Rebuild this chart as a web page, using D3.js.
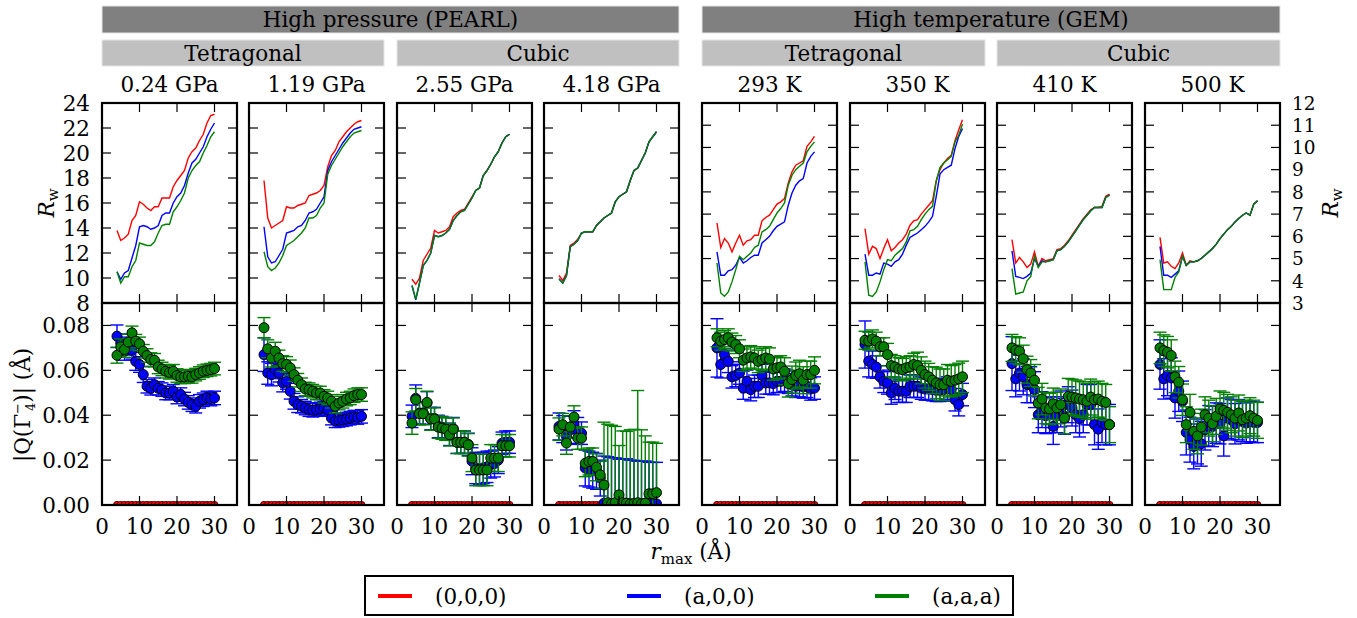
<!DOCTYPE html>
<html>
<head>
<meta charset="utf-8">
<script src="https://cdn.jsdelivr.net/npm/d3@7"></script>
<style>
  body { margin: 0; background: #fff; }
  svg text { font-family: "DejaVu Serif", serif; fill: #000; }
</style>
</head>
<body>
<svg id="chart" width="1357" height="618"></svg>
<script>
// r_max values (Å), shared by every panel
const rMax = [4,5,6,7,8,9,10,11,12,13,14,15,16,17,18,19,20,21,22,23,24,25,26,27,28,29,30];

const panelTitles = ['0.24 GPa', '1.19 GPa', '2.55 GPa', '4.18 GPa', '293 K', '350 K', '410 K', '500 K'];
const facilities = ['High pressure (PEARL)', 'High temperature (GEM)'];
const phases = ['Tetragonal', 'Cubic', 'Tetragonal', 'Cubic'];
const legendLabels = ['(0,0,0)', '(a,0,0)', '(a,a,a)'];

const rTicks = [0, 10, 20, 30];
const rwTicksPearl = [8, 10, 12, 14, 16, 18, 20, 22, 24];
const rwTicksGem = [3, 4, 5, 6, 7, 8, 9, 10, 11, 12];
const qTicks = [0, 0.02, 0.04, 0.06, 0.08];

// Rw, one array per panel
const rw000 = [
  [13.8,13.0,13.2,13.5,14.6,15.0,16.1,15.9,15.6,15.4,15.7,15.7,16.4,16.4,16.4,17.3,17.8,18.2,18.6,19.6,20.1,20.4,21.0,21.5,22.4,23.0,23.1],
  [17.8,14.8,14.0,14.2,14.4,14.6,15.7,15.6,15.6,15.8,15.9,16.0,16.6,16.7,16.8,17.0,17.4,18.9,19.8,20.2,20.9,21.3,21.7,22.0,22.3,22.5,22.6],
  [9.9,9.5,10.0,11.4,11.9,12.4,13.8,13.6,13.7,13.8,14.1,14.9,15.2,15.4,15.5,16.0,16.5,17.0,17.2,18.2,18.6,19.1,19.7,20.1,20.8,21.3,21.5],
  [10.2,9.8,10.4,12.6,12.8,13.1,13.6,13.7,13.7,13.7,14.2,14.5,14.8,15.0,15.2,16.1,16.5,16.7,16.9,17.8,18.6,18.8,19.4,20.0,20.9,21.3,21.7],
  [6.6,5.5,5.9,5.7,5.3,5.7,6.05,5.6,5.8,5.85,6.05,6.05,6.7,6.85,6.95,7.2,7.45,7.55,7.7,8.4,8.9,9.2,9.3,9.4,10.05,10.25,10.5],
  [6.35,5.2,5.55,5.45,5.0,5.45,5.85,5.35,5.5,5.7,5.85,6.1,6.5,6.7,6.75,7.0,7.2,7.4,7.6,8.5,9.0,9.3,9.5,9.65,10.3,10.8,11.25],
  [5.85,4.8,5.05,4.85,4.6,4.75,5.3,4.65,5.0,4.9,4.95,5.0,5.4,5.45,5.6,5.8,6.05,6.3,6.55,6.8,7.0,7.2,7.3,7.3,7.35,7.8,7.9],
  [5.95,4.8,4.85,4.65,4.55,4.8,5.25,4.7,4.9,4.85,4.9,5.0,5.15,5.3,5.45,5.65,5.9,6.1,6.3,6.45,6.65,6.8,6.95,7.05,6.95,7.45,7.6]
];
const rwA00 = [
  [10.5,9.9,10.4,10.6,11.6,12.6,14.1,14.2,14.1,13.9,14.0,14.2,15.0,15.2,15.2,16.0,16.5,16.8,17.4,18.4,19.2,19.5,20.0,20.5,21.3,21.9,22.4],
  [14.1,11.7,11.2,11.3,11.8,12.3,13.6,13.7,13.8,14.1,14.2,14.6,15.2,15.3,15.5,16.0,16.5,18.6,19.3,19.8,20.3,20.8,21.2,21.6,21.9,22.0,22.1],
  [9.4,8.25,9.6,11.0,11.4,12.0,13.4,13.3,13.4,13.6,13.9,14.6,15.0,15.3,15.4,15.9,16.4,17.0,17.2,18.2,18.6,19.1,19.7,20.1,20.8,21.3,21.5],
  [9.95,9.6,10.2,12.5,12.7,13.0,13.6,13.7,13.7,13.7,14.2,14.5,14.8,15.0,15.2,16.1,16.5,16.7,16.9,17.8,18.6,18.8,19.4,20.0,20.9,21.3,21.7],
  [5.3,4.25,4.25,4.45,4.5,4.7,5.05,4.8,4.9,5.05,5.15,5.15,5.7,5.85,6.0,6.25,6.45,6.55,6.65,7.4,7.95,8.3,8.5,8.6,9.3,9.6,9.8],
  [5.2,4.25,4.25,4.35,4.3,4.8,4.75,4.65,4.85,4.95,5.2,5.6,5.95,6.05,6.15,6.3,6.45,6.65,6.9,7.8,8.8,9.0,9.1,9.2,9.95,10.5,10.85],
  [5.35,4.2,4.15,4.1,4.2,4.35,5.0,4.65,4.9,4.85,4.9,4.95,5.35,5.4,5.55,5.75,6.0,6.25,6.5,6.75,6.95,7.15,7.3,7.3,7.3,7.75,7.85],
  [5.55,4.25,4.25,4.15,4.3,4.45,5.1,4.7,4.85,4.85,4.9,5.0,5.15,5.3,5.45,5.65,5.9,6.1,6.3,6.45,6.65,6.8,6.95,7.05,6.95,7.45,7.6]
];
const rwAAA = [
  [10.5,9.6,10.1,10.1,10.9,11.4,12.8,12.7,12.6,12.6,12.9,13.6,14.2,14.3,14.3,15.3,15.7,16.2,16.8,18.0,18.6,19.0,19.3,20.0,20.6,21.3,21.7],
  [12.1,10.9,10.6,10.8,11.2,11.8,12.6,12.8,13.0,13.3,13.6,14.0,14.8,14.8,15.0,15.6,16.0,18.3,19.0,19.5,20.0,20.5,20.9,21.3,21.6,21.7,21.8],
  [9.4,8.3,9.6,11.0,11.4,12.0,13.4,13.3,13.4,13.6,13.9,14.6,15.0,15.3,15.4,15.9,16.4,17.0,17.2,18.2,18.6,19.1,19.7,20.1,20.8,21.3,21.5],
  [9.9,9.6,10.2,12.5,12.7,13.0,13.6,13.7,13.7,13.7,14.2,14.5,14.8,15.0,15.2,16.1,16.5,16.7,16.9,17.8,18.6,18.8,19.4,20.0,20.9,21.3,21.7],
  [4.8,3.45,3.3,3.5,3.95,4.5,5.1,4.95,5.1,5.25,5.5,5.6,6.2,6.3,6.45,6.75,7.05,7.25,7.5,8.3,8.75,9.0,9.15,9.3,9.8,10.05,10.25],
  [4.85,3.35,3.3,3.5,3.95,4.5,4.95,4.9,5.15,5.3,5.45,5.75,6.25,6.3,6.45,6.75,7.0,7.2,7.35,8.5,9.1,9.3,9.45,9.6,10.25,10.55,11.05],
  [4.55,3.4,3.45,3.5,4.0,4.2,5.1,4.6,4.85,4.85,4.9,4.95,5.35,5.4,5.55,5.75,6.0,6.25,6.5,6.75,6.95,7.15,7.3,7.3,7.3,7.75,7.85],
  [4.95,3.6,3.6,3.6,4.15,4.4,5.1,4.7,4.85,4.85,4.9,5.0,5.15,5.3,5.45,5.65,5.9,6.1,6.3,6.45,6.65,6.8,6.95,7.05,6.95,7.45,7.6]
];

// |Q(Γ4-)| amplitudes (Å) and their errors
const q000 = [0,0,0,0,0,0,0,0,0,0,0,0,0,0,0,0,0,0,0,0,0,0,0,0,0,0,0];
const qA00 = [
  [.0752,.0722,.0685,.0708,.069,.064,.0626,.0581,.0529,.052,.0536,.052,.0514,.0499,.0499,.0507,.0481,.0492,.0472,.0457,.0447,.044,.0462,.0469,.0477,.0472,.0477],
  [.067,.0588,.0581,.0603,.0588,.0544,.0551,.0507,.0462,.0447,.044,.0432,.0425,.0422,.0425,.0428,.0432,.0425,.0387,.0375,.0377,.038,.0383,.0387,.0392,.039,.0395],
  [.0395,.0475,.041,.041,.0455,.0385,.0385,.035,.0345,.034,.0315,.034,.028,.028,.028,.027,.0195,.0165,.016,.0165,.017,.018,.0185,.02,.0275,.028,.028],
  [.035,.0338,.0305,.0335,.036,.033,.032,.0165,.016,.0155,.015,.012,.0008,.0005,.0006,.0005,.0004,.0005,.0006,.0005,.0004,.0005,.0005,.0006,.0005,.0005,.0005],
  [.070,.0626,.067,.064,.0571,.0577,.0588,.0521,.0551,.0514,.0529,.0529,.0577,.0544,.0544,.0541,.0551,.0551,.0556,.0547,.0536,.0529,.0532,.0526,.0529,.0517,.0521],
  [.0715,.0641,.0626,.0615,.0571,.0551,.0544,.0499,.052,.0507,.0507,.0507,.0529,.0529,.0529,.0521,.0517,.0517,.0514,.0511,.0511,.0514,.0521,.0514,.0469,.0447,.0492],
  [.063,.0562,.0588,.0571,.0536,.0536,.0514,.0402,.0425,.0398,.0402,.035,.0402,.0428,.0395,.0447,.0432,.0402,.0383,.0402,.0447,.0447,.0358,.0338,.0368,.0358,.0358],
  [.0626,.0562,.0577,.0566,.0477,.0507,.0462,.0323,.0291,.0261,.0283,.0273,.0335,.0353,.035,.0365,.0362,.0308,.0387,.038,.0362,.038,.0372,.0365,.0372,.0368,.0368]
];
const qA00Err = [
  [.005,.004,.004,.004,.004,.004,.0035,.0035,.003,.003,.003,.003,.003,.003,.003,.003,.003,.003,.003,.003,.003,.003,.003,.003,.003,.003,.003],
  [.0075,.005,.005,.004,.004,.004,.0035,.0035,.0035,.0035,.003,.003,.003,.003,.003,.003,.003,.003,.003,.003,.003,.003,.003,.003,.003,.003,.003],
  [.005,.006,.005,.005,.005,.005,.005,.005,.005,.005,.005,.005,.005,.005,.005,.005,.006,.007,.007,.007,.007,.006,.006,.006,.005,.005,.005],
  [.006,.006,.006,.006,.006,.006,.005,.008,.008,.008,.008,.008,.021,.021,.0205,.0205,.02,.02,.02,.0195,.0195,.019,.019,.019,.0185,.0185,.0185],
  [.013,.006,.005,.005,.005,.005,.005,.005,.005,.005,.005,.005,.005,.005,.005,.005,.005,.005,.005,.005,.005,.005,.005,.005,.005,.005,.005],
  [.0105,.007,.006,.005,.005,.005,.005,.005,.005,.005,.005,.005,.005,.005,.005,.005,.005,.005,.005,.005,.005,.005,.005,.005,.005,.005,.005],
  [.012,.008,.008,.008,.008,.008,.008,.008,.008,.008,.008,.008,.008,.008,.008,.008,.008,.008,.008,.008,.009,.009,.009,.009,.009,.009,.009],
  [.011,.009,.009,.009,.009,.009,.009,.01,.01,.01,.01,.01,.009,.009,.009,.009,.009,.009,.009,.009,.009,.009,.009,.009,.009,.009,.009]
];
const qAAA = [
  [.0667,.0705,.0693,.0726,.0767,.073,.0718,.0685,.0666,.0648,.0645,.0615,.0606,.0596,.0591,.0596,.0577,.0571,.0571,.0574,.0571,.0581,.0588,.0596,.06,.0603,.0608],
  [.079,.0696,.0655,.0685,.0655,.063,.0626,.0611,.0581,.0556,.0536,.0517,.0514,.0507,.0499,.0499,.0484,.0477,.0462,.044,.0454,.0462,.0472,.0477,.0487,.0492,.0492],
  [.0365,.0469,.0407,.0407,.0457,.0383,.0383,.0347,.0343,.0338,.0313,.0338,.0279,.0279,.0279,.0268,.0209,.0156,.0156,.0156,.0156,.0209,.0209,.0209,.0264,.0264,.0264],
  [.0338,.0358,.0276,.0347,.0392,.0298,.0298,.0186,.0194,.0194,.0168,.0134,.0089,.001,.0005,.001,.0045,.001,.0008,.0005,.0007,.001,.0005,.0008,.005,.005,.0055],
  [.0745,.073,.0737,.0745,.0726,.0715,.0696,.0645,.0655,.066,.0655,.064,.0648,.0655,.065,.0606,.0611,.0615,.0596,.0541,.0559,.0577,.0585,.0556,.0581,.0581,.060],
  [.0734,.073,.074,.073,.0705,.0705,.067,.0621,.0615,.0606,.0603,.0611,.0615,.0626,.0621,.06,.0581,.0571,.0556,.0544,.0536,.0536,.0556,.0551,.0556,.0562,.0571],
  [.070,.069,.0685,.0652,.0603,.0588,.0556,.0454,.0472,.0432,.0428,.0451,.0432,.0447,.0387,.0484,.0481,.0477,.0472,.0469,.0462,.0481,.0469,.0472,.0462,.0457,.0358],
  [.070,.0688,.0681,.0666,.0571,.0547,.0469,.0358,.0413,.0328,.0308,.0347,.0402,.0387,.0362,.0395,.0428,.0422,.0413,.0402,.0387,.041,.038,.0387,.0398,.0387,.0377]
];
const qAAAErr = [
  [.0035,.0035,.0035,.0035,.003,.003,.003,.003,.003,.003,.003,.003,.003,.003,.003,.003,.003,.003,.003,.003,.0028,.0028,.0028,.0028,.0028,.0028,.0028],
  [.0045,.004,.004,.004,.0035,.0035,.0035,.0035,.003,.003,.003,.003,.003,.003,.003,.003,.003,.003,.003,.003,.003,.003,.003,.003,.003,.003,.003],
  [.005,.005,.005,.005,.005,.005,.005,.005,.005,.005,.005,.005,.005,.005,.005,.005,.006,.007,.007,.007,.007,.006,.006,.006,.005,.005,.005],
  [.005,.005,.005,.005,.005,.005,.005,.006,.006,.006,.006,.006,.028,.035,.035,.034,.022,.032,.032,.033,.033,.05,.033,.03,.023,.023,.022],
  [.004,.004,.004,.004,.004,.004,.004,.005,.005,.005,.005,.005,.005,.005,.005,.005,.005,.005,.006,.006,.006,.006,.006,.006,.006,.006,.006],
  [.004,.004,.004,.004,.004,.004,.005,.005,.005,.005,.005,.005,.005,.005,.006,.006,.006,.006,.006,.007,.007,.007,.007,.007,.007,.007,.007],
  [.006,.006,.006,.006,.006,.006,.007,.007,.007,.007,.007,.007,.007,.007,.007,.008,.008,.008,.008,.008,.008,.008,.008,.008,.008,.008,.008],
  [.007,.007,.007,.007,.007,.007,.007,.008,.008,.008,.008,.008,.008,.008,.008,.008,.008,.008,.008,.008,.008,.008,.008,.008,.008,.008,.008]
];

const colors = ['#ff0000', '#0000ff', '#008000'];

// layout
const svg = d3.select('#chart');
const FONT = 21.5;
const FONT_GEM = 18.5; // right Rw axis: ticks are only 22 px apart
const panelLeft = [102, 249, 397, 544, 702, 850, 997, 1145];
const panelW = 135;
const yTop = 103, yMid = 303, yBot = 505;
const tickLen = 9;

// group header bars
const bars = [
  { x0: panelLeft[0], x1: panelLeft[3] + panelW, y: 6, h: 27, fill: '#808080', text: facilities[0] },
  { x0: panelLeft[4], x1: panelLeft[7] + panelW, y: 6, h: 27, fill: '#808080', text: facilities[1] },
  { x0: panelLeft[0], x1: panelLeft[1] + panelW, y: 40, h: 26, fill: '#c0c0c0', text: phases[0] },
  { x0: panelLeft[2], x1: panelLeft[3] + panelW, y: 40, h: 26, fill: '#c0c0c0', text: phases[1] },
  { x0: panelLeft[4], x1: panelLeft[5] + panelW, y: 40, h: 26, fill: '#c0c0c0', text: phases[2] },
  { x0: panelLeft[6], x1: panelLeft[7] + panelW, y: 40, h: 26, fill: '#c0c0c0', text: phases[3] }
];
bars.forEach(b => {
    svg.append('rect').attr('x', b.x0).attr('y', b.y).attr('width', b.x1 - b.x0).attr('height', b.h)
        .attr('fill', b.fill).attr('stroke', '#e6e6e6').attr('stroke-width', 1);
    svg.append('text').attr('x', (b.x0 + b.x1) / 2).attr('y', b.y + 21)
        .attr('text-anchor', 'middle').style('font-size', FONT + 'px').text(b.text);
});

const defs = svg.append('defs');

function drawFrame(g, x, y, yTicks) {
    const [x0, x1] = x.range();
    const [y0, y1] = y.range(); // y0 bottom, y1 top
    rTicks.forEach(t => {
        const px = x(t);
        g.append('line').attr('x1', px).attr('x2', px).attr('y1', y0).attr('y2', y0 - tickLen).attr('stroke', '#000').attr('stroke-width', 1.2);
        g.append('line').attr('x1', px).attr('x2', px).attr('y1', y1).attr('y2', y1 + tickLen).attr('stroke', '#000').attr('stroke-width', 1.2);
    });
    yTicks.forEach(t => {
        const py = y(t);
        g.append('line').attr('x1', x0).attr('x2', x0 + tickLen).attr('y1', py).attr('y2', py).attr('stroke', '#000').attr('stroke-width', 1.2);
        g.append('line').attr('x1', x1).attr('x2', x1 - tickLen).attr('y1', py).attr('y2', py).attr('stroke', '#000').attr('stroke-width', 1.2);
    });
    g.append('rect').attr('x', x0).attr('y', y1).attr('width', x1 - x0).attr('height', y0 - y1)
        .attr('fill', 'none').attr('stroke', '#000').attr('stroke-width', 2.2);
}

panelTitles.forEach((title, i) => {
    const left = panelLeft[i];
    const isGem = i >= 4;
    const x = d3.scaleLinear().domain([0, 36]).range([left, left + panelW]);
    const yRw = d3.scaleLinear().domain(isGem ? [3, 12] : [8, 24]).range([yMid, yTop]);
    const yQ = d3.scaleLinear().domain([0, 0.09]).range([yBot, yMid]);
    const g = svg.append('g');

    g.append('text').attr('x', left + panelW / 2).attr('y', 92)
        .attr('text-anchor', 'middle').style('font-size', FONT + 'px').text(title);

    // clip paths
    defs.append('clipPath').attr('id', 'clipT' + i).append('rect')
        .attr('x', left).attr('y', yTop).attr('width', panelW).attr('height', yMid - yTop);
    defs.append('clipPath').attr('id', 'clipB' + i).append('rect')
        .attr('x', left).attr('y', yMid).attr('width', panelW).attr('height', yBot - yMid);

    // Rw lines
    const line = d3.line().x((d, k) => x(rMax[k])).y(d => yRw(d));
    const top = g.append('g').attr('clip-path', 'url(#clipT' + i + ')');
    [rw000[i], rwA00[i], rwAAA[i]].forEach((s, k) => {
        top.append('path').datum(s).attr('d', line)
            .attr('fill', 'none').attr('stroke', colors[k]).attr('stroke-width', 1.4);
    });

    // amplitudes with error bars
    const bot = g.append('g').attr('clip-path', 'url(#clipB' + i + ')');
    const series = [
        { v: q000, e: q000, r: 3.6, c: colors[0], edge: '#4a0000' },
        { v: qA00[i], e: qA00Err[i], r: 5, c: colors[1], edge: '#000' },
        { v: qAAA[i], e: qAAAErr[i], r: 5, c: colors[2], edge: '#000' }
    ];
    series.forEach(s => {
        const sg = bot.append('g');
        s.v.forEach((v, k) => {
            const err = s.e[k];
            if (err > 0) {
                const px = x(rMax[k]);
                const hi = yQ(v + err), lo = yQ(v - err);
                sg.append('line').attr('x1', px).attr('x2', px).attr('y1', hi).attr('y2', lo)
                    .attr('stroke', s.c).attr('stroke-width', 1.4);
                [hi, lo].forEach(py => sg.append('line').attr('x1', px - 6.5).attr('x2', px + 6.5)
                    .attr('y1', py).attr('y2', py).attr('stroke', s.c).attr('stroke-width', 1.4));
            }
        });
        sg.selectAll('circle').data(s.v).join('circle')
            .attr('cx', (d, k) => x(rMax[k])).attr('cy', d => yQ(d)).attr('r', s.r)
            .attr('fill', s.c).attr('stroke', s.edge).attr('stroke-width', 1);
    });

    drawFrame(g, x, yRw, isGem ? rwTicksGem : rwTicksPearl);
    drawFrame(g, x, yQ, qTicks);

    // x tick labels
    rTicks.forEach(t => {
        g.append('text').attr('x', x(t)).attr('y', 534).attr('text-anchor', 'middle')
            .style('font-size', FONT + 'px').text(t);
    });

    // y tick labels
    if (i === 0) {
        rwTicksPearl.forEach(t => {
            g.append('text').attr('x', left - 12).attr('y', yRw(t) + 7.8).attr('text-anchor', 'end')
                .style('font-size', FONT + 'px').text(t);
        });
        qTicks.forEach(t => {
            g.append('text').attr('x', left - 12).attr('y', yQ(t) + 7.8).attr('text-anchor', 'end')
                .style('font-size', FONT + 'px').text(d3.format('.2f')(t));
        });
    }
    if (i === 7) {
        rwTicksGem.forEach(t => {
            g.append('text').attr('x', left + panelW + 12).attr('y', yRw(t) + 6.8).attr('text-anchor', 'start')
                .style('font-size', FONT_GEM + 'px').text(t);
        });
    }
});

// axis titles
function rwLabel(cx, cy) {
    const t = svg.append('text').attr('transform', `translate(${cx},${cy}) rotate(-90)`)
        .attr('text-anchor', 'middle').style('font-size', FONT + 'px');
    t.append('tspan').style('font-style', 'italic').text('R');
    t.append('tspan').attr('dy', 4).style('font-size', '15px').text('w');
}
rwLabel(54, 203);
rwLabel(1338, 203);

const qLabel = svg.append('text').attr('transform', 'translate(30,405) rotate(-90)')
    .attr('text-anchor', 'middle').style('font-size', FONT + 'px');
qLabel.append('tspan').text('|Q(Γ');
qLabel.append('tspan').attr('dy', -8).style('font-size', '13px').text('−');
qLabel.append('tspan').attr('dx', -8).attr('dy', 13).style('font-size', '13px').text('4');
qLabel.append('tspan').attr('dy', -5).text(')| (Å)');

const xLabel = svg.append('text').attr('x', 691).attr('y', 559)
    .attr('text-anchor', 'middle').style('font-size', FONT + 'px');
xLabel.append('tspan').style('font-style', 'italic').text('r');
xLabel.append('tspan').attr('dy', 5).style('font-size', '15px').text('max');
xLabel.append('tspan').attr('dy', -5).text(' (Å)');

// legend
const legend = svg.append('g');
legend.append('rect').attr('x', 365).attr('y', 576).attr('width', 648).attr('height', 39)
    .attr('fill', '#fff').attr('stroke', '#000').attr('stroke-width', 2);
const legendX = [378, 627, 875];
legendLabels.forEach((lab, k) => {
    legend.append('line').attr('x1', legendX[k]).attr('x2', legendX[k] + 34)
        .attr('y1', 596).attr('y2', 596).attr('stroke', colors[k]).attr('stroke-width', 4);
    legend.append('text').attr('x', legendX[k] + 57).attr('y', 604)
        .style('font-size', FONT + 'px').text(lab);
});
</script>
</body>
</html>
